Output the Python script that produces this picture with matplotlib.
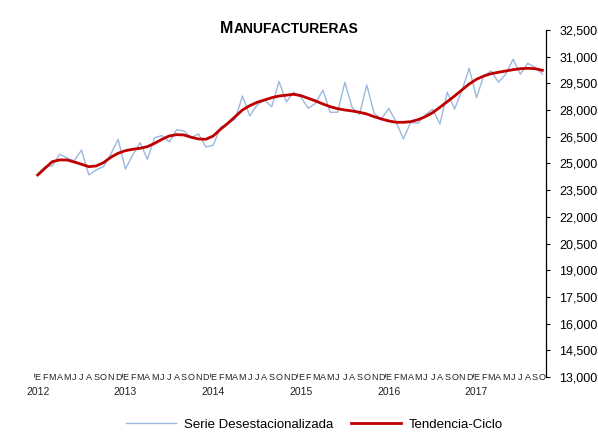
import matplotlib
matplotlib.use("Agg")
import matplotlib.pyplot as plt
import matplotlib.transforms as mtransforms
from matplotlib.ticker import FuncFormatter

plt.rcParams['font.family'] = ['Liberation Sans', 'DejaVu Sans']

# datos mensuales ene-2012 .. oct-2017
meses = ["E", "F", "M", "A", "M", "J", "J", "A", "S", "O", "N", "D"]
anios = ["2012", "2013", "2014", "2015", "2016", "2017"]

serie_desest = [
    24354, 24820, 24860, 25517, 25309, 25157, 25758, 24354, 24635, 24820, 25517, 26360,
    24691, 25478, 26169, 25236, 26449, 26562, 26208, 26899, 26826, 26449, 26657, 25927,
    26022, 27034, 27258, 27483, 28792, 27669, 28287, 28567, 28191, 29607, 28455, 29000,
    28719, 28101, 28382, 29129, 27876, 27876, 29562, 28135, 27764, 29410, 27820, 27500,
    28101, 27348, 26376, 27315, 27258, 27725, 28045, 27219, 29000, 28062, 29090, 30348,
    28697, 29933, 30197, 29562, 30028, 30854, 30011, 30629, 30404, 30028,
]

tendencia = [
    24354, 24730, 25101, 25197, 25197, 25084, 24955, 24820, 24860, 25045, 25348, 25573,
    25719, 25798, 25854, 25944, 26135, 26360, 26545, 26618, 26601, 26472, 26376, 26360,
    26545, 26921, 27258, 27629, 28006, 28247, 28438, 28567, 28697, 28792, 28837, 28888,
    28809, 28663, 28511, 28343, 28191, 28079, 28006, 27949, 27876, 27781, 27629, 27500,
    27388, 27315, 27315, 27348, 27461, 27629, 27854, 28157, 28472, 28792, 29129, 29466,
    29730, 29916, 30045, 30124, 30197, 30270, 30326, 30348, 30326, 30236,
]

n = len(serie_desest)
x = list(range(n))

fig = plt.figure(figsize=(5.98, 4.44), dpi=100)
ax = fig.add_axes([34 / 598, 67 / 444, 512 / 598, 347 / 444])

ax.plot(x, serie_desest, color='#9BB9DD', linewidth=1.0, label='Serie Desestacionalizada')
ax.plot(x, tendencia, color='#C00000', linewidth=2.0, label='Tendencia-Ciclo')

ax.set_xlim(-0.5, n - 0.5)
ax.set_ylim(13000, 32500)

# eje y a la derecha
ax.yaxis.tick_right()
ax.set_yticks(range(13000, 32501, 1500))
ax.yaxis.set_major_formatter(FuncFormatter(lambda v, p: f"{int(v):,}"))
ax.tick_params(axis='y', direction='out', length=3, width=0.8, pad=6.5, labelsize=9)

for s in ['left', 'top', 'bottom']:
    ax.spines[s].set_visible(False)
ax.spines['right'].set_linewidth(0.9)

# eje x: marcas en cambio de año y etiquetas de mes / año
ax.set_xticks([i * 12 - 0.5 for i in range(len(anios))] + [n - 0.5])
ax.set_xticklabels([])
ax.tick_params(axis='x', direction='in', length=3, width=0.6, color='#404040')

trans = mtransforms.blended_transform_factory(ax.transData, ax.transAxes)
for i in x:
    ax.text(i, 0, meses[i % 12], transform=trans, ha='center', va='center',
            fontsize=6.5, color='#222222')
for k, a in enumerate(anios):
    ax.annotate(a, xy=(k * 12, 0), xycoords=trans, xytext=(0, -10.5),
                textcoords='offset points', ha='center', va='center', fontsize=7.5,
                color='#222222')

# titulo en versalitas
t1 = fig.text(220 / 598, 1 - 33 / 444, "M", fontsize=11.5, fontweight='bold',
              ha='left', va='baseline')
ax.annotate("ANUFACTURERAS", xy=(1, 0), xycoords=t1, ha='left', va='bottom',
            fontsize=10, fontweight='bold')

fig.legend(loc='center', bbox_to_anchor=(0.526, 0.043), ncol=2, frameon=False,
           fontsize=9.5, handlelength=3.8, handletextpad=0.6, columnspacing=1.3)

fig.savefig('out.png', dpi=100)
